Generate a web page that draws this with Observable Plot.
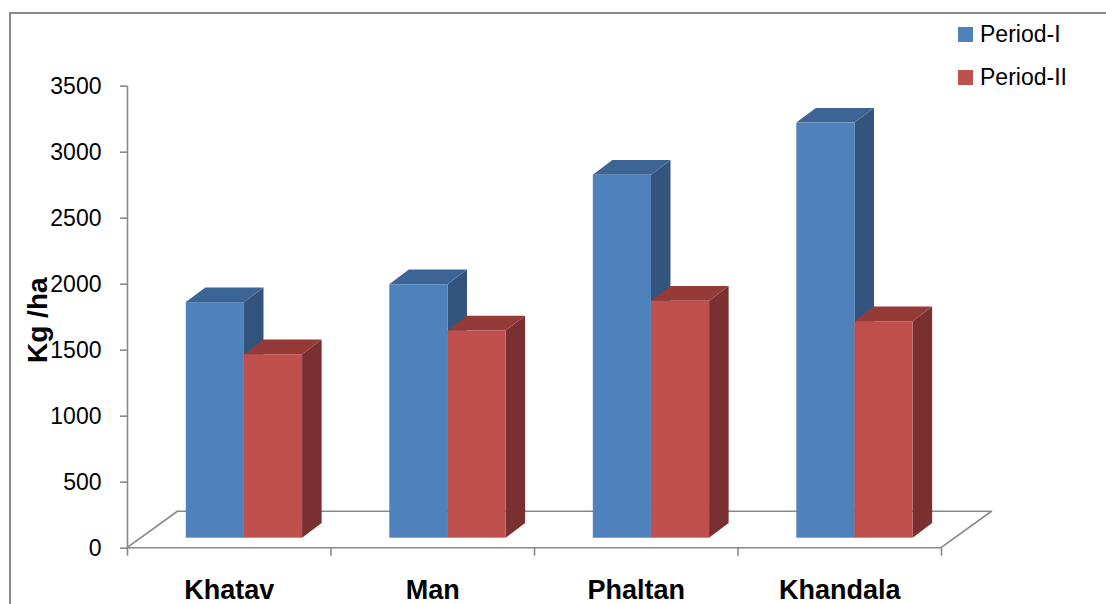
<!DOCTYPE html>
<html>
<head>
<meta charset="utf-8">
<script src="https://cdn.jsdelivr.net/npm/d3@7"></script>
<script src="https://cdn.jsdelivr.net/npm/@observablehq/plot@0.6"></script>
<style>
  body { margin: 0; background: #fff; }
  #wrap { position: relative; width: 1106px; height: 604px; overflow: hidden; font-family: "Liberation Sans", Arial, sans-serif; }
  #wrap svg { position: absolute; left: 0; top: 0; }
  #border { position: absolute; left: 9px; top: 12px; width: 1120px; height: 700px; border: 2px solid #888; box-sizing: border-box; pointer-events: none; }
  .key { position: absolute; left: 958px; width: 14.5px; height: 14.5px; }
  .key-label { position: absolute; left: 980px; font-size: 23px; line-height: 23px; color: #000; white-space: nowrap; }
</style>
</head>
<body>
<div id="wrap">
  <div id="border"></div>
</div>
<script>
// Yield (Kg/ha) by tahsil for two periods
const districts = ["Khatav", "Man", "Phaltan", "Khandala"];
const periods = ["Period-I", "Period-II"];
const periodI = [1785, 1920, 2750, 3145];
const periodII = [1390, 1570, 1795, 1640];
const yTicks = [0, 500, 1000, 1500, 2000, 2500, 3000, 3500];
const yLabel = "Kg /ha";

// face colours for the pseudo-3D columns
const faces = {
  "Period-I": { front: "#4f81bd", top: "#3c6595", side: "#33547d" },
  "Period-II": { front: "#c0504d", top: "#943b39", side: "#7a3030" }
};

// oblique projection settings
const BAR_W = 1 / 3.5;          // column width in category units (gap = 150%)
const SHIFT_X = 15.2, SHIFT_Y = -10; // px offset of the column row from the floor's front edge
const DEPTH_X = 0.096, DEPTH_Y = 111; // column depth, in x / y scale units
const FLOOR_X = 0.248, FLOOR_Y = 276; // floor depth, in x / y scale units

const series = { "Period-I": periodI, "Period-II": periodII };
const rows = periods.flatMap((p, k) => districts.map((d, i) => ({
  id: d + "|" + p,
  district: d,
  period: p,
  value: series[p][i],
  x1: i + 0.5 - (k === 0 ? BAR_W : 0),
  x2: i + 0.5 + (k === 0 ? 0 : BAR_W)
})));

const sideFaces = rows.flatMap(r => [
  { id: r.id, period: r.period, x: r.x2, y1: 0, y2: r.value },
  { id: r.id, period: r.period, x: r.x2 + DEPTH_X, y1: DEPTH_Y, y2: r.value + DEPTH_Y }
]);
const topFaces = rows.flatMap(r => [
  { id: r.id, period: r.period, y: r.value, x1: r.x1, x2: r.x2 },
  { id: r.id, period: r.period, y: r.value + DEPTH_Y, x1: r.x1 + DEPTH_X, x2: r.x2 + DEPTH_X }
]);
const floor = [
  { y: 0, x1: 0, x2: districts.length },
  { y: FLOOR_Y, x1: FLOOR_X, x2: districts.length + FLOOR_X }
];

const grey = "#888";
const columnMarks = periods.flatMap(p => [
  Plot.areaY(sideFaces.filter(s => s.period === p), {
    x: "x", y1: "y1", y2: "y2", z: "id", fill: faces[p].side, dx: SHIFT_X, dy: SHIFT_Y
  }),
  Plot.areaX(topFaces.filter(s => s.period === p), {
    y: "y", x1: "x1", x2: "x2", z: "id", fill: faces[p].top, dx: SHIFT_X, dy: SHIFT_Y
  }),
  Plot.rect(rows.filter(r => r.period === p), {
    x1: "x1", x2: "x2", y1: 0, y2: "value", fill: faces[p].front, dx: SHIFT_X, dy: SHIFT_Y
  })
]);

const chart = Plot.plot({
  width: 1106,
  height: 604,
  marginLeft: 127,
  marginRight: 165,
  marginTop: 85.7,
  marginBottom: 56.3,
  x: { domain: [0, districts.length] },
  y: { domain: [0, 3500] },
  style: { fontFamily: "'Liberation Sans', Arial, sans-serif", fontSize: "23px", color: "#000", background: "transparent", overflow: "visible" },
  marks: [
    // floor
    Plot.areaX(floor, { y: "y", x1: "x1", x2: "x2", fill: "#fff", stroke: grey, strokeWidth: 1.6 }),
    // value axis
    Plot.ruleX([0], { y1: 0, y2: 3500, stroke: grey, strokeWidth: 1.6 }),
    Plot.axisY({ ticks: yTicks, tickFormat: d => String(d), tickSize: 7, tickPadding: 19, stroke: grey, strokeWidth: 1.6, fill: "#000", fontSize: 23, label: null }),
    // category boundary ticks
    Plot.axisX({ ticks: d3.range(districts.length + 1), tickSize: 8, tickFormat: () => "", stroke: grey, strokeWidth: 1.6, label: null }),
    // category labels
    Plot.axisX({
      ticks: districts.map((d, i) => i + 0.5), tickSize: 0, tickPadding: 32,
      tickFormat: v => districts[Math.floor(v)], fill: "#000", fontSize: 27, fontWeight: "bold", label: null
    }),
    ...columnMarks,
    // axis title
    Plot.text([yLabel], {
      text: d => d, frameAnchor: "left", rotate: -90, dx: -81, dy: 3,
      textAnchor: "middle", lineAnchor: "bottom", fontSize: 28, fontWeight: "bold", fill: "#000"
    })
  ]
});

const wrap = document.getElementById("wrap");
wrap.insertBefore(chart, wrap.firstChild);

// legend
periods.forEach((p, k) => {
  const key = document.createElement("div");
  key.className = "key";
  key.style.top = (27.3 + 43 * k) + "px";
  key.style.background = faces[p].front;
  wrap.appendChild(key);
  const label = document.createElement("div");
  label.className = "key-label";
  label.style.top = (22.5 + 43 * k) + "px";
  label.textContent = p;
  wrap.appendChild(label);
});
</script>
</body>
</html>
